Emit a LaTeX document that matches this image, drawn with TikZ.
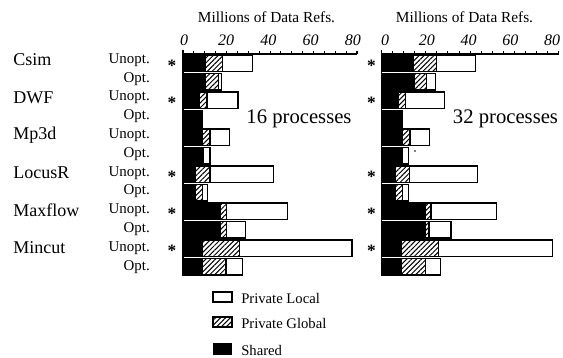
\documentclass[tikz,border=0pt]{standalone}
\usepackage{fontspec}
\setmainfont{Liberation Serif}
\usetikzlibrary{patterns.meta}
\begin{document}
\begin{tikzpicture}[x=0.75pt,y=-0.75pt,
  namelbl/.style={anchor=west,inner sep=0pt,font=\fontsize{13.5pt}{15pt}\selectfont},
  optlbl/.style={anchor=east,inner sep=0pt,font=\fontsize{11.2pt}{12pt}\selectfont},
  ticklbl/.style={inner sep=0pt,font=\fontsize{12pt}{13pt}\selectfont\itshape},
  titlelbl/.style={inner sep=0pt,font=\fontsize{11.5pt}{12pt}\selectfont},
  proclbl/.style={inner sep=0pt,font=\fontsize{15.5pt}{16pt}\selectfont},
  leglbl/.style={anchor=west,inner sep=0pt,font=\fontsize{11pt}{12pt}\selectfont},
  starlbl/.style={inner sep=0pt,font=\fontsize{13pt}{13pt}\selectfont\bfseries},
  hatch/.style={pattern={Lines[angle=45,distance=2.6pt,line width=0.75pt]}},
  barline/.style={line width=0.9pt}]
\useasboundingbox (0,0) rectangle (563,357);

% ---------- row labels ----------
\foreach \nm/\i in {Csim/0,DWF/1,Mp3d/2,LocusR/3,Maxflow/4,Mincut/5}{
  \node[namelbl] (name\i) at (13,{60+37.6*\i}) {\nm};
  \node[optlbl] (unopt\i) at (150,{60+37.6*\i}) {Unopt.};
  \node[optlbl] (opt\i) at (150,{60+37.6*\i+18.8}) {Opt.};
}

% ---------- axes ----------
\foreach \xo/\sc/\lx/\ls/\tx/\nm in {183/2.175/184/2.11/266.5/L,381.5/2.215/385/2.09/464.5/R}{
  \node[titlelbl] (title\nm) at (\tx,17) {Millions of Data Refs.};
  \foreach \v in {0,20,40,60,80}
    \node[ticklbl] (tick\nm\v) at ({\lx+\v*\ls},40) {\v};
  \draw[line width=0.9pt] (\xo,54) -- ({\xo+80*\sc},54);
  \foreach \k in {0,...,16}
    \draw[line width=0.7pt] ({\xo+\k*5*\sc},54) -- ++(0,-3);
  \draw[line width=0.9pt] ({\xo+80*\sc},54) -- ++(0,-3);
  \draw[line width=0.9pt] (\xo,50) -- (\xo,275);
}

% ---------- bars, left (16 processes) ----------
\foreach \i/\a/\b/\c in {0/10.5/18/32, 1/10.5/16.4/17.8, 2/7.6/11/25.3, 3/8.7/8.7/8.7,
  4/9.3/12.4/21.3, 5/9.3/9.3/12.4, 6/6/12.4/41.6, 7/6/9.1/11.2,
  8/17.4/20.1/48, 9/17.4/20.1/28.6, 10/9.3/26/77.7, 11/9.3/19.8/27.5}{
  \fill (183,{55+18.5*\i}) rectangle ({183+\a*2.175},{55+18.5*\i+16.5});
  \fill[hatch] ({183+\a*2.175},{55+18.5*\i}) rectangle ({183+\b*2.175},{55+18.5*\i+16.5});
  \draw[barline] (183,{55+18.5*\i}) rectangle ({183+\c*2.175},{55+18.5*\i+16.5});
  \draw[barline] ({183+\b*2.175},{55+18.5*\i}) -- ({183+\b*2.175},{55+18.5*\i+16.5});
}

% ---------- bars, right (32 processes) ----------
\foreach \i/\a/\b/\c in {0/14.7/24.7/42.4, 1/15.1/20.4/24.2, 2/8/11/28.3, 3/9.5/9.5/9.5,
  4/9.8/12.9/21.6, 5/9.5/9.5/12.1, 6/6.5/12.5/43.4, 7/6.5/9.5/12.1,
  8/20.1/22.3/52, 9/20.1/21.4/31.4, 10/9.1/25.7/77.3, 11/9.1/19.7/26.8}{
  \fill (381.5,{55+18.5*\i}) rectangle ({381.5+\a*2.215},{55+18.5*\i+16.5});
  \fill[hatch] ({381.5+\a*2.215},{55+18.5*\i}) rectangle ({381.5+\b*2.215},{55+18.5*\i+16.5});
  \draw[barline] (381.5,{55+18.5*\i}) rectangle ({381.5+\c*2.215},{55+18.5*\i+16.5});
  \draw[barline] ({381.5+\b*2.215},{55+18.5*\i}) -- ({381.5+\b*2.215},{55+18.5*\i+16.5});
}

% ---------- asterisks ----------
\foreach \i in {0,2,6,8,10}{
  \node[starlbl] (starL\i) at (172,{66+18.5*\i}) {*};
  \node[starlbl] (starR\i) at (371.5,{66+18.5*\i}) {*};
}
\fill (415,151) circle (0.9);

% ---------- process counts ----------
\node[proclbl] (p16) at (299,119) {16 processes};
\node[proclbl] (p32) at (505.5,119) {32 processes};

% ---------- legend ----------
\draw[barline] (213,292) rectangle (232,302);
\node[leglbl] (legPL) at (241,298) {Private Local};
\fill[hatch] (213,317) rectangle (232,327);
\draw[barline] (213,317) rectangle (232,327);
\node[leglbl] (legPG) at (241,323) {Private Global};
\fill (213,343) rectangle (232,355);
\node[leglbl] (legS) at (241,350) {Shared};
\end{tikzpicture}
\end{document}
